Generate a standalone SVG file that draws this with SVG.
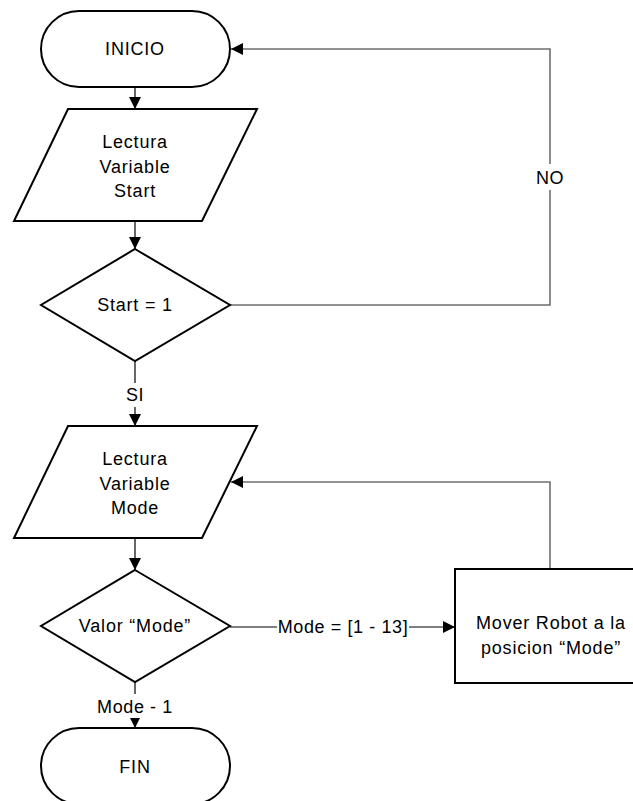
<svg xmlns="http://www.w3.org/2000/svg" width="633" height="801" viewBox="0 0 633 801">
  <style>
    .shape { fill: #ffffff; stroke: #000000; stroke-width: 2; }
    .txt { font-family: "Liberation Sans", Arial, sans-serif; font-size: 18px; fill: #000000; text-anchor: middle; letter-spacing: 0.8px; }
    .conn { fill: none; stroke: #000000; stroke-width: 1.2; }
    .loop { fill: none; stroke: #6e6e6e; stroke-width: 1.6; }
    .lbl { font-family: "Liberation Sans", Arial, sans-serif; font-size: 18px; fill: #000000; text-anchor: middle; letter-spacing: 0.6px; }
  </style>
  <defs>
    <marker id="arrow" viewBox="0 0 12 12" refX="12" refY="6" markerWidth="12" markerHeight="12" markerUnits="userSpaceOnUse" orient="auto">
      <path d="M0,0 L12,6 L0,12 z" fill="#000000"/>
    </marker>
  </defs>

  <rect width="633" height="801" fill="#ffffff"/>

  <!-- connectors -->
  <g id="connectors">
    <line class="conn" x1="135" y1="87" x2="135" y2="109" marker-end="url(#arrow)"/>
    <line class="conn" x1="135" y1="221" x2="135" y2="249" marker-end="url(#arrow)"/>
    <!-- NO branch back to INICIO -->
    <polyline class="loop" points="230,305 550,305 550,49 231,49" marker-end="url(#arrow)"/>
    <rect x="536" y="164" width="28" height="26" fill="#ffffff"/>
    <text class="lbl" x="550" y="184">NO</text>
    <!-- SI branch -->
    <line class="conn" x1="135" y1="361" x2="135" y2="426" marker-end="url(#arrow)"/>
    <rect x="120" y="383" width="30" height="24" fill="#ffffff"/>
    <text class="lbl" x="135" y="401">SI</text>
    <line class="conn" x1="135" y1="538" x2="135" y2="570" marker-end="url(#arrow)"/>
    <!-- Mode = [1 - 13] to move box -->
    <line class="conn" x1="230" y1="627" x2="455" y2="627" marker-end="url(#arrow)"/>
    <rect x="277" y="614" width="132" height="26" fill="#ffffff"/>
    <text class="lbl" x="343" y="633">Mode = [1 - 13]</text>
    <!-- back to Lectura Variable Mode -->
    <polyline class="loop" points="550,569 550,482 231,482" marker-end="url(#arrow)"/>
    <!-- Mode - 1 to FIN -->
    <line class="conn" x1="135" y1="682" x2="135" y2="728" marker-end="url(#arrow)"/>
    <rect x="95" y="694" width="80" height="24" fill="#ffffff"/>
    <text class="lbl" x="135" y="713">Mode - 1</text>
  </g>

  <g id="inicio">
    <rect class="shape" x="41" y="11" width="189" height="76" rx="38" ry="38"/>
    <text class="txt" x="135" y="55">INICIO</text>
  </g>

  <g id="lectura-start">
    <polygon class="shape" points="68,109 257,109 202,221 14,221"/>
    <text class="txt" x="135" y="148">Lectura</text>
    <text class="txt" x="135" y="173">Variable</text>
    <text class="txt" x="135" y="197">Start</text>
  </g>

  <g id="decision-start">
    <polygon class="shape" points="135,249 230,305 135,361 41,305"/>
    <text class="txt" x="135" y="311">Start = 1</text>
  </g>

  <g id="lectura-mode">
    <polygon class="shape" points="68,426 257,426 202,538 14,538"/>
    <text class="txt" x="135" y="465">Lectura</text>
    <text class="txt" x="135" y="490">Variable</text>
    <text class="txt" x="135" y="514">Mode</text>
  </g>

  <g id="decision-mode">
    <polygon class="shape" points="135,570 230,626 135,682 41,626"/>
    <text class="txt" x="135" y="632">Valor “Mode”</text>
  </g>

  <g id="mover-robot">
    <rect class="shape" x="455" y="569" width="194" height="114"/>
    <text class="txt" x="551" y="629">Mover Robot a la</text>
    <text class="txt" x="551" y="654">posicion “Mode”</text>
  </g>

  <g id="fin">
    <rect class="shape" x="41" y="728" width="189" height="76" rx="38" ry="38"/>
    <text class="txt" x="135" y="773">FIN</text>
  </g>
</svg>
